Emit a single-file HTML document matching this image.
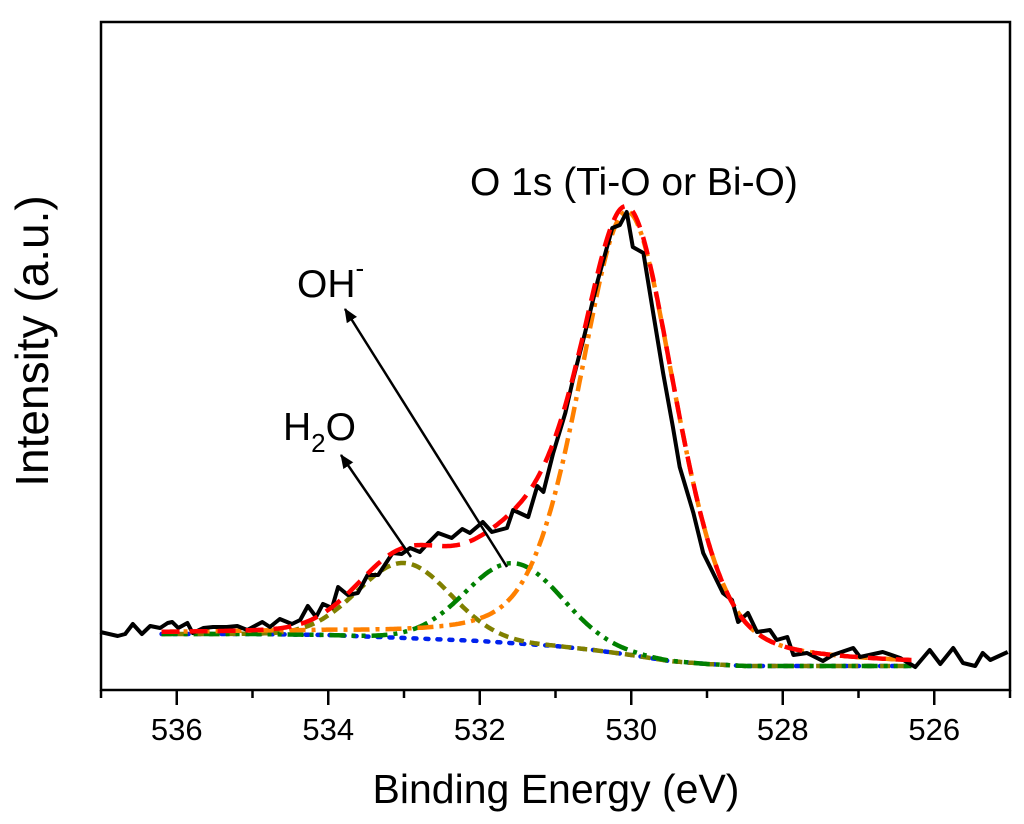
<!DOCTYPE html>
<html><head><meta charset="utf-8">
<style>
html,body{margin:0;padding:0;background:#fff;}
svg{display:block;font-family:"Liberation Sans",Arial,sans-serif;}
</style></head>
<body>
<svg id="chart" width="1024" height="824" viewBox="0 0 1024 824">
<defs>
<marker id="ah" markerWidth="14" markerHeight="14" refX="13" refY="7" orient="auto" markerUnits="userSpaceOnUse" viewBox="0 0 14 14">
<path d="M0,1 L14,7 L0,13 Z" fill="#000"/>
</marker>
</defs>
<g id="marks"></g>
<rect x="101" y="22" width="909" height="668" fill="none" stroke="#000" stroke-width="2.5"/>
<g id="xticks"></g>
<text x="556" y="803" font-size="41" text-anchor="middle">Binding Energy (eV)</text>
<text transform="translate(48,341) rotate(-90)" font-size="46" text-anchor="middle">Intensity (a.u.)</text>
<text x="470" y="195" font-size="39">O 1s (Ti-O or Bi-O)</text>
<text x="297" y="297" font-size="39">OH<tspan dy="-20" font-size="26">-</tspan></text>
<text x="283" y="440" font-size="39">H<tspan dy="12" font-size="26">2</tspan><tspan dy="-12">O</tspan></text>
<line x1="507" y1="567" x2="345" y2="309" stroke="#000" stroke-width="2.5" marker-end="url(#ah)"/>
<line x1="411" y1="557" x2="341" y2="455" stroke="#000" stroke-width="2.5" marker-end="url(#ah)"/>
</svg>
<script>
// raw spectrum
const rawE=[537.01,536.78,536.68,536.58,536.46,536.35,536.22,536.12,536.06,535.98,535.86,535.79,535.65,535.52,535.34,535.20,535.07,534.87,534.77,534.64,534.48,534.37,534.27,534.16,534.07,533.95,533.87,533.74,533.61,533.48,533.34,533.15,533.03,532.92,532.79,532.68,532.55,532.37,532.23,532.13,531.96,531.84,531.64,531.56,531.36,531.24,531.16,531.03,530.87,530.77,530.61,530.44,530.25,530.15,530.06,529.98,529.84,529.71,529.58,529.45,529.36,529.18,529.05,528.92,528.79,528.67,528.59,528.46,528.34,528.17,528.08,527.94,527.86,527.68,527.47,527.34,527.07,526.98,526.68,526.45,526.25,526.06,525.92,525.75,525.62,525.46,525.36,525.26,525.03];
const rawV=[58,54,56,66,56,64,62,67,68,62,67,57,62,63,63,64,60,68,63,71,66,70,84,73,86,82,103,95,97,115,115,137,136,142,138,147,157,152,161,157,168,158,162,180,173,204,198,237,277,310,357,410,462,465,478,443,437,377,317,263,223,177,137,117,97,90,68,77,58,60,50,53,35,37,29,35,42,33,38,32,23,40,26,42,27,24,37,30,38];
// background
const bgE=[536.2,535,534,533,532,531.4,531,530.5,530,529.5,529,528.5,527.5,526.3];
const bgV=[56,56,55,52,49,46,44,40,35,29,26,24,24,24];
// fitted peaks: main (Ti-O/Bi-O), OH-, H2O
const peakCenters=[530.05,531.55,533.0];
const peakHeights=[443,80,75];
const peakFwhm=[1.5,1.5,1.44];
const peakLorentz=[0.35,0,0];
const xTicks=[536,534,532,530,528,526];
const xMinor=[537,535,533,531,529,527,525];

const X0=101,X1=1010,Y0=690,Y1=22;
const xDom=[537,525], yDom=[0,668];
const sx=e=>X0+(e-xDom[0])/(xDom[1]-xDom[0])*(X1-X0);
const sy=v=>Y0-(v-yDom[0])/(yDom[1]-yDom[0])*(Y0-Y1);
const NS="http://www.w3.org/2000/svg";
const marks=document.getElementById('marks');
function bg(e){
  if(e>=bgE[0])return bgV[0];
  for(let i=0;i<bgE.length-1;i++){
    if(e<=bgE[i]&&e>=bgE[i+1]){const t=(bgE[i]-e)/(bgE[i]-bgE[i+1]);return bgV[i]+t*(bgV[i+1]-bgV[i]);}
  }
  return bgV[bgV.length-1];
}
function pk(i,e){
  const d=e-peakCenters[i],w=peakFwhm[i]/2;
  const g=Math.exp(-Math.LN2*d*d/(w*w)), l=1/(1+d*d/(w*w));
  return peakHeights[i]*((1-peakLorentz[i])*g+peakLorentz[i]*l);
}
function path(pts,color,width,dash,name,cap){
  const p=document.createElementNS(NS,'path');
  p.setAttribute('d','M'+pts.map(q=>sx(q[0]).toFixed(1)+','+sy(q[1]).toFixed(1)).join('L'));
  p.setAttribute('fill','none');p.setAttribute('stroke',color);p.setAttribute('stroke-width',width);
  p.setAttribute('stroke-linejoin','round');
  if(cap)p.setAttribute('stroke-linecap',cap);
  if(dash)p.setAttribute('stroke-dasharray',dash);
  
  
  marks.appendChild(p);
}
const eStart=bgE[0],eEnd=bgE[bgE.length-1];
const grid=[];for(let e=eStart;e>=eEnd-1e-9;e-=0.02)grid.push(e);
path(grid.map(e=>[e,bg(e)]),'#0022ee',4.5,'3 9','background-curve','round');
path(grid.map(e=>[e,bg(e)+pk(2,e)]),'#808000',4.5,'10 6','h2o-component');
path(grid.map(e=>[e,bg(e)+pk(1,e)]),'#008000',4.5,'16 6 4 6 4 6','oh-component');
path(grid.map(e=>[e,bg(e)+pk(0,e)]),'#ff8000',4.5,'16 6 4 6','main-component');
path(rawE.map((e,i)=>[e,rawV[i]]),'#000',4,null,'raw-spectrum');
path(grid.map(e=>[e,bg(e)+pk(0,e)+pk(1,e)+pk(2,e)]),'#ff0000',4.5,'18 10','fit-envelope');

const xt=document.getElementById('xticks');
xTicks.forEach(t=>{
  const l=document.createElementNS(NS,'line');
  l.setAttribute('x1',sx(t));l.setAttribute('x2',sx(t));l.setAttribute('y1',Y0);l.setAttribute('y2',Y0+15);
  l.setAttribute('stroke','#000');l.setAttribute('stroke-width','2.5');
  
  
  xt.appendChild(l);
  const tx=document.createElementNS(NS,'text');
  tx.setAttribute('x',sx(t));tx.setAttribute('y',740);tx.setAttribute('font-size','31');tx.setAttribute('text-anchor','middle');
  tx.textContent=t;
  
  
  xt.appendChild(tx);
});
xMinor.forEach(t=>{
  const l=document.createElementNS(NS,'line');
  l.setAttribute('x1',sx(t));l.setAttribute('x2',sx(t));l.setAttribute('y1',Y0);l.setAttribute('y2',Y0+8);
  l.setAttribute('stroke','#000');l.setAttribute('stroke-width','2.5');
  
  
  xt.appendChild(l);
});
</script>
</body></html>
